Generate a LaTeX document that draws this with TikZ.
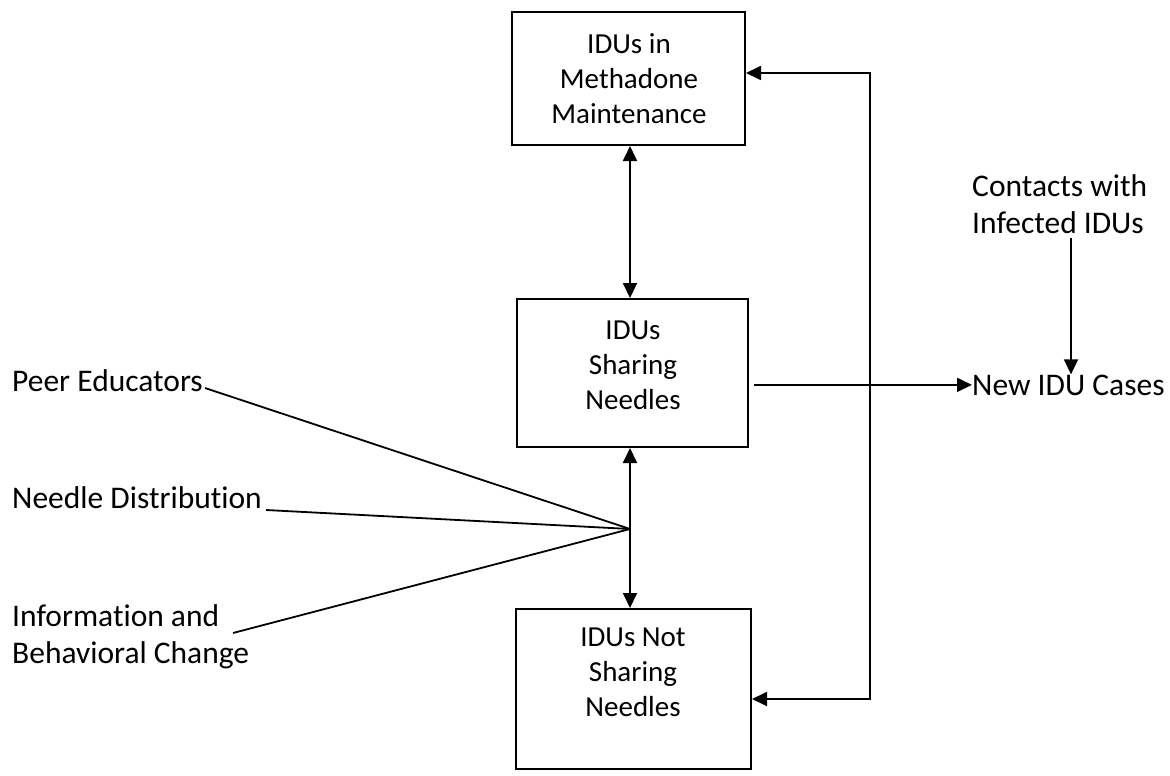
\documentclass[tikz,border=0pt]{standalone}
\usepackage{fontspec}
\setmainfont[Ligatures=CommonOff]{Carlito}
\usetikzlibrary{arrows.meta}
\tikzset{
  box/.style={draw, line width=2pt, rectangle, inner sep=0pt},
  boxtext/.style={align=center, inner sep=0pt, font=\fontsize{29}{35}\selectfont},
  lbl/.style={inner sep=0pt, font=\fontsize{31.5}{37}\selectfont},
  link/.style={line width=1.8pt},
  arr/.style={line width=1.8pt, -{Triangle[length=15pt,width=14pt]}},
  darr/.style={line width=1.8pt, {Triangle[length=15pt,width=14pt]}-{Triangle[length=15pt,width=14pt]}}
}
\begin{document}
\begin{tikzpicture}[x=1pt,y=-1pt]
\useasboundingbox (0,0) rectangle (1170,776);

% stock boxes
\node[box, minimum width=233pt, minimum height=133pt] (mmt) at (628.5,78.5) {};
\node[box, minimum width=231pt, minimum height=148pt] (share) at (632.5,373) {};
\node[box, minimum width=235pt, minimum height=160pt] (noshare) at (633.5,689) {};

\node[boxtext] (mmtT) at (629,79) {IDUs in\\Methadone\\Maintenance};
\node[boxtext] (shareT) at (633,365) {IDUs\\Sharing\\Needles};
\node[boxtext] (noshareT) at (633,672) {IDUs Not\\Sharing\\Needles};

% outside labels (multi-line ones are placed by their last baseline)
\node[lbl, anchor=base west] (peer) at (12,391) {Peer Educators};
\node[lbl, anchor=base west] (needle) at (12,508) {Needle Distribution};
\node[lbl, anchor=base west, align=left] (info) at (12,663) {Information and\\Behavioral Change};
\node[lbl, anchor=base west, align=left] (contacts) at (972,233) {Contacts with\\Infected IDUs};
\node[lbl, anchor=base west] (newcases) at (972,395) {New IDU Cases};

% routing points
\coordinate (hub) at (630,529);
\coordinate (fbTop) at (870,73);
\coordinate (fbBot) at (870,699);
\coordinate (peerEnd) at (205,388);
\coordinate (needleEnd) at (266,510);
\coordinate (infoEnd) at (233,633);
\coordinate (contactsEnd) at (1071,238);

% flows between the boxes
\draw[darr] (mmt.south -| hub) -- (share.north -| hub);
\draw[darr] (share.south -| hub) -- (noshare.north -| hub);
\draw[darr] (mmt.east |- fbTop) -- (fbTop) -- (fbBot) -- (noshare.east |- fbBot);
\draw[arr] ([xshift=5pt]share.east |- newcases.west) -- (newcases.west);
\draw[arr] (contactsEnd) -- (contactsEnd |- newcases.north);

% interventions feeding the sharing flow
\draw[link] (peerEnd) -- (hub);
\draw[link] (needleEnd) -- (hub);
\draw[link] (infoEnd) -- (hub);
\end{tikzpicture}
\end{document}
